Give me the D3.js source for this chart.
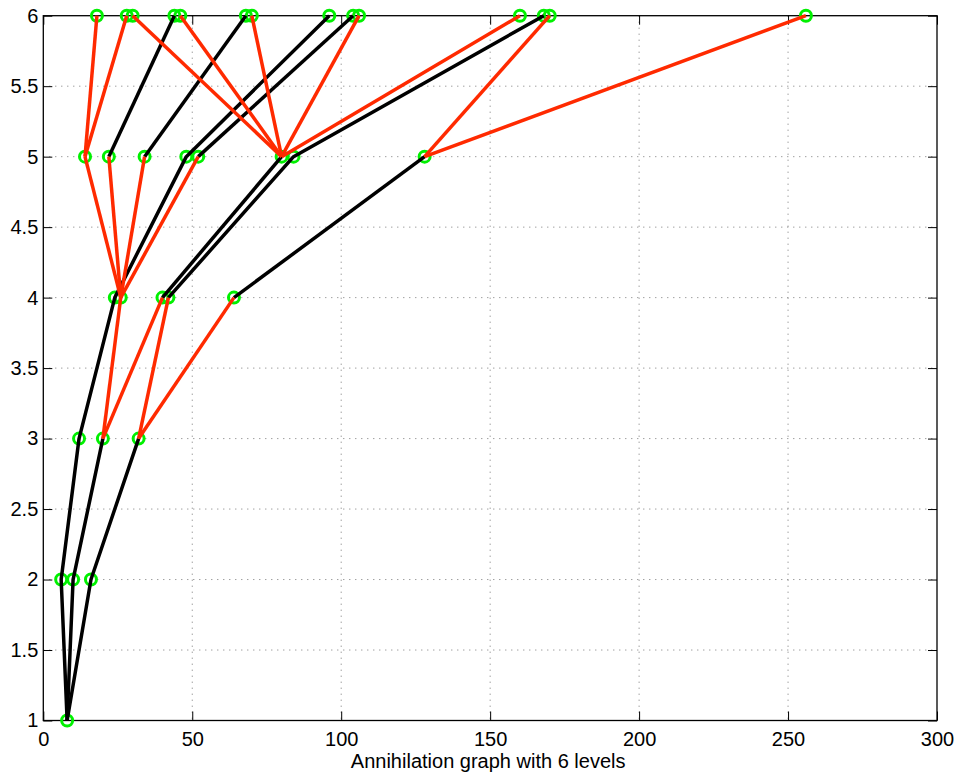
<!DOCTYPE html>
<html>
<head>
<meta charset="utf-8">
<script src="https://cdn.jsdelivr.net/npm/d3@7"></script>
<style>
  body { margin: 0; background: #fff; }
  svg text { font-family: "Liberation Sans", Arial, sans-serif; }
</style>
</head>
<body>
<svg id="chart" width="954" height="774"></svg>
<script>
// node positions per level (x value)
const level1 = [8]
const level2 = [6, 10, 16]
const level3 = [12, 20, 32]
const level4 = [24, 26, 40, 42, 64]
const level5 = [14, 22, 34, 48, 52, 80, 84, 128]
const level6 = [18, 28, 30, 44, 46, 68, 70, 96, 104, 106, 160, 168, 170, 256]

// black chains: [level, x] pairs
const blackPaths = [
  [[1, 8], [2, 6], [3, 12], [4, 24], [5, 48], [6, 96]],
  [[1, 8], [2, 10], [3, 20]],
  [[1, 8], [2, 16], [3, 32]],
  [[4, 40], [5, 80]],
  [[4, 42], [5, 84], [6, 168]],
  [[4, 64], [5, 128]],
  [[5, 22], [6, 44]],
  [[5, 34], [6, 68]],
  [[5, 52], [6, 104]]
]

// red edges: [level, from x, to x] (to is on level+1)
const redEdges = [
  [3, 20, 26], [3, 20, 40], [3, 32, 42], [3, 32, 64],
  [4, 26, 14], [4, 26, 22], [4, 26, 34], [4, 26, 52],
  [5, 14, 18], [5, 14, 28],
  [5, 80, 30], [5, 80, 46], [5, 80, 70], [5, 80, 106], [5, 80, 160],
  [5, 128, 170], [5, 128, 256]
]

const xTicks = [0, 50, 100, 150, 200, 250, 300]
const yTicks = [1, 1.5, 2, 2.5, 3, 3.5, 4, 4.5, 5, 5.5, 6]
const xLabel = "Annihilation graph with 6 levels"

const svg = d3.select("#chart")
const pLeft = 43.3, pRight = 937, pTop = 15.7, pBottom = 720.5

const x = d3.scaleLinear().domain([0, 300]).range([pLeft, pRight])
const y = d3.scaleLinear().domain([1, 6]).range([pBottom, pTop])

// grid
svg.append("g").selectAll("line").data(xTicks.slice(1, -1)).enter().append("line")
  .attr("x1", d => x(d)).attr("x2", d => x(d))
  .attr("y1", pTop).attr("y2", pBottom)
  .attr("stroke", "#777").attr("stroke-width", 1).attr("stroke-dasharray", "1,5")
svg.append("g").selectAll("line").data(yTicks.slice(1, -1)).enter().append("line")
  .attr("y1", d => y(d)).attr("y2", d => y(d))
  .attr("x1", pLeft).attr("x2", pRight)
  .attr("stroke", "#777").attr("stroke-width", 1).attr("stroke-dasharray", "1,5")

// axes (ticks inside, box on)
const tl = 9
const xAxis = d3.axisBottom(x).tickValues(xTicks).tickSizeInner(-tl).tickSizeOuter(0)
const yAxis = d3.axisLeft(y).tickValues(yTicks).tickSizeInner(-tl).tickSizeOuter(0).tickFormat(d3.format("~g"))
const gx = svg.append("g").attr("transform", `translate(0,${pBottom})`).call(xAxis)
const gy = svg.append("g").attr("transform", `translate(${pLeft},0)`).call(yAxis)
svg.append("g").attr("transform", `translate(0,${pTop})`)
  .call(d3.axisTop(x).tickValues(xTicks).tickSizeInner(-tl).tickSizeOuter(0).tickFormat(""))
svg.append("g").attr("transform", `translate(${pRight},0)`)
  .call(d3.axisRight(y).tickValues(yTicks).tickSizeInner(-tl).tickSizeOuter(0).tickFormat(""))
svg.selectAll(".domain").remove()
svg.selectAll(".tick line").attr("stroke", "#000").attr("stroke-width", 1)
gx.selectAll("text").attr("font-size", 20).attr("fill", "#000").attr("dy", "0.71em").attr("y", 11)
gy.selectAll("text").attr("font-size", 20).attr("fill", "#000").attr("x", -5)
svg.append("rect").attr("x", pLeft).attr("y", pTop).attr("width", pRight - pLeft).attr("height", pBottom - pTop)
  .attr("fill", "none").attr("stroke", "#000").attr("stroke-width", 1.3)

svg.append("text").attr("x", (pLeft + pRight) / 2 - 2).attr("y", 768)
  .attr("text-anchor", "middle").attr("font-size", 20).attr("fill", "#000").text(xLabel)

// nodes
const levels = [level1, level2, level3, level4, level5, level6]
const nodes = []
levels.forEach((arr, i) => arr.forEach(v => nodes.push([i + 1, v])))
svg.append("g").selectAll("circle").data(nodes).enter().append("circle")
  .attr("cx", d => x(d[1])).attr("cy", d => y(d[0])).attr("r", 5.5)
  .attr("fill", "none").attr("stroke", "#00f000").attr("stroke-width", 3)

// black chains
const line = d3.line().x(d => x(d[1])).y(d => y(d[0]))
svg.append("g").selectAll("path").data(blackPaths).enter().append("path")
  .attr("d", line).attr("fill", "none").attr("stroke", "#000").attr("stroke-width", 3.5)
  .attr("stroke-linejoin", "round")

// red edges
svg.append("g").selectAll("line").data(redEdges).enter().append("line")
  .attr("x1", d => x(d[1])).attr("y1", d => y(d[0]))
  .attr("x2", d => x(d[2])).attr("y2", d => y(d[0] + 1))
  .attr("stroke", "#ff2a00").attr("stroke-width", 3.5)
</script>
</body>
</html>
